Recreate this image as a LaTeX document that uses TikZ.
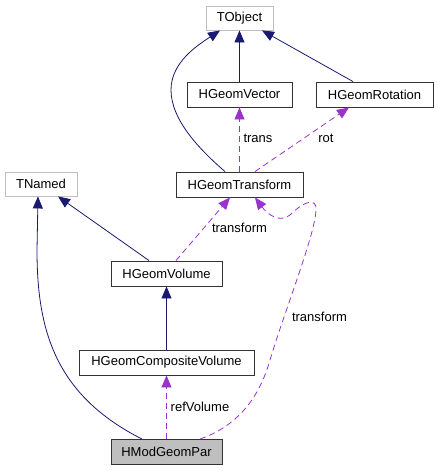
\documentclass[tikz,border=0pt]{standalone}
\usepackage{fontspec}
\setmainfont{Liberation Sans}
\usetikzlibrary{arrows.meta,calc}
\definecolor{navy}{HTML}{191970}
\definecolor{orchid}{HTML}{9A32CD}
\definecolor{graybd}{HTML}{BFBFBF}
\tikzset{
  cls/.style={draw=black!80, line width=0.9pt, rectangle, inner sep=0pt, minimum height=25pt, font=\fontsize{13pt}{15pt}\selectfont},
  ext/.style={cls, draw=graybd},
  cur/.style={cls, fill=graybd},
  inh/.style={draw=navy, line width=0.8pt, -{Triangle[length=12pt,width=10pt]}},
  use/.style={draw=orchid, line width=0.8pt, dash pattern=on 6pt off 4pt, -{Triangle[length=12pt,width=10pt]}},
  lbl/.style={font=\fontsize{13pt}{15pt}\selectfont, inner sep=0pt}
}
\begin{document}
\begin{tikzpicture}[x=1pt,y=-1pt]
\useasboundingbox (0,0) rectangle (438,471);
\node[ext, minimum width=67pt, minimum height=24pt] (TObject) at (239.5,18) {TObject};
\node[cls, minimum width=105pt] (HGeomVector) at (239.5,94.5) {HGeomVector};
\node[cls, minimum width=117pt] (HGeomRotation) at (374.5,94.5) {HGeomRotation};
\node[ext, minimum width=72pt, minimum height=24pt] (TNamed) at (41,184) {TNamed};
\node[cls, minimum width=127pt] (HGeomTransform) at (239.5,184.5) {HGeomTransform};
\node[cls, minimum width=111pt] (HGeomVolume) at (166.5,273.5) {HGeomVolume};
\node[cls, minimum width=175pt] (HGeomCompositeVolume) at (166.5,362.5) {HGeomCompositeVolume};
\node[cur, minimum width=111pt] (HModGeomPar) at (166.5,452) {HModGeomPar};

% inheritance
\draw[inh] ($(HGeomTransform.north)+(-14.5,0)$) .. controls (200,150) and (171,120) .. (171,90)
  .. controls (171,62) and (198,45) .. ($(TObject.south)+(-19.5,0)$);
\draw[inh] (HGeomVector.north) -- (TObject.south);
\draw[inh] ($(HGeomRotation.north)+(-21.5,0)$) -- ($(TObject.south)+(22.5,0)$);
\draw[inh] ($(HGeomVolume.north)+(-17.5,0)$) -- ($(TNamed.south)+(17,0)$);
\draw[inh] ($(HModGeomPar.north)+(-24.5,0)$) .. controls (55,395) and (37,330) .. (37,250) -- ($(TNamed.south)+(-3,0)$);
\draw[inh] (HGeomCompositeVolume.north) -- (HGeomVolume.south);

% usage
\draw[use] (HGeomTransform.north) -- (HGeomVector.south);
\node[lbl] (ltrans) at (258,138) {trans};
\draw[use] ($(HGeomTransform.north)+(15.5,0)$) -- ($(HGeomRotation.south)+(-25.5,0)$);
\node[lbl] (lrot) at (326,138) {rot};
\draw[use] ($(HGeomVolume.north)+(9.5,0)$) -- ($(HGeomTransform.south)+(-9.5,0)$);
\node[lbl] (ltransform1) at (239.5,228) {transform};
\draw[use] (HModGeomPar.north) -- (HGeomCompositeVolume.south);
\node[lbl] (lref) at (200,407) {refVolume};
\draw[use] ($(HModGeomPar.north)+(33.5,0)$) .. controls (240,425) and (260,395) .. (270,360)
  .. controls (285,310) and (315,235) .. (316,210)
  .. controls (317,198) and (305,200) .. (290,215)
  .. controls (280,223) and (268,215) .. ($(HGeomTransform.south)+(15.5,0)$);
\node[lbl] (ltransform2) at (319.5,317) {transform};
\end{tikzpicture}
\end{document}
